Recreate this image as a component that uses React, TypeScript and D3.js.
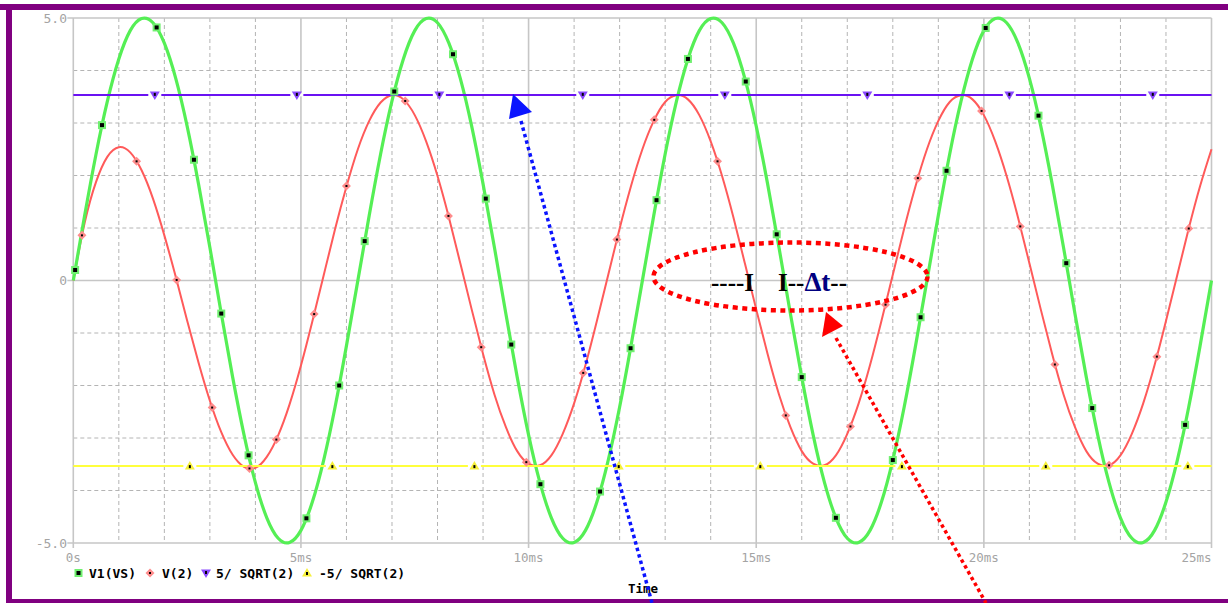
import React from "react";
import * as d3 from "d3";

// Transient simulation output: 0 .. 25 ms
const timeMs = [
  0, 0.25, 0.5, 0.75, 1, 1.25, 1.5, 1.75, 2, 2.25, 2.5, 2.75, 3, 3.25, 3.5, 3.75, 4, 4.25, 4.5, 4.75,
  5, 5.25, 5.5, 5.75, 6, 6.25, 6.5, 6.75, 7, 7.25, 7.5, 7.75, 8, 8.25, 8.5, 8.75, 9, 9.25, 9.5, 9.75,
  10, 10.25, 10.5, 10.75, 11, 11.25, 11.5, 11.75, 12, 12.25, 12.5, 12.75, 13, 13.25, 13.5, 13.75, 14, 14.25, 14.5, 14.75,
  15, 15.25, 15.5, 15.75, 16, 16.25, 16.5, 16.75, 17, 17.25, 17.5, 17.75, 18, 18.25, 18.5, 18.75, 19, 19.25, 19.5, 19.75,
  20, 20.25, 20.5, 20.75, 21, 21.25, 21.5, 21.75, 22, 22.25, 22.5, 22.75, 23, 23.25, 23.5, 23.75, 24, 24.25, 24.5, 24.75,
  25,
];

// V1(VS): source voltage
const v1Values = [
  0, 1.24, 2.41, 3.42, 4.22, 4.76, 4.99, 4.91, 4.52, 3.85, 2.94, 1.84, 0.63, -0.63, -1.84, -2.94, -3.85, -4.52, -4.91, -4.99, -4.76, -4.22, -3.42, -2.41, -1.24,
  0, 1.24, 2.41, 3.42, 4.22, 4.76, 4.99, 4.91, 4.52, 3.85, 2.94, 1.84, 0.63, -0.63, -1.84, -2.94, -3.85, -4.52, -4.91, -4.99, -4.76, -4.22, -3.42, -2.41, -1.24,
  0, 1.24, 2.41, 3.42, 4.22, 4.76, 4.99, 4.91, 4.52, 3.85, 2.94, 1.84, 0.63, -0.63, -1.84, -2.94, -3.85, -4.52, -4.91, -4.99, -4.76, -4.22, -3.42, -2.41, -1.24,
  0, 1.24, 2.41, 3.42, 4.22, 4.76, 4.99, 4.91, 4.52, 3.85, 2.94, 1.84, 0.63, -0.63, -1.84, -2.94, -3.85, -4.52, -4.91, -4.99, -4.76, -4.22, -3.42, -2.41, -1.24,
  0,
];

// V(2): node voltage (leading, with start-up transient)
const v2Values = [
  0.0, 1.1, 1.88, 2.36, 2.54, 2.44, 2.1, 1.56, 0.86, 0.07, -0.76, -1.56, -2.29, -2.89, -3.32, -3.55, -3.57, -3.36, -2.95, -2.36, -1.62, -0.78, 0.1, 0.98, 1.79,
  2.5, 3.04, 3.39, 3.53, 3.45, 3.15, 2.65, 1.99, 1.2, 0.33, -0.55, -1.4, -2.17, -2.79, -3.25, -3.49, -3.52, -3.33, -2.92, -2.34, -1.61, -0.77, 0.11, 0.99, 1.8,
  2.5, 3.04, 3.4, 3.53, 3.45, 3.15, 2.65, 1.99, 1.2, 0.33, -0.55, -1.4, -2.17, -2.79, -3.25, -3.49, -3.52, -3.33, -2.92, -2.34, -1.61, -0.77, 0.11, 0.99, 1.8,
  2.5, 3.04, 3.4, 3.53, 3.45, 3.15, 2.65, 1.99, 1.2, 0.33, -0.55, -1.4, -2.17, -2.79, -3.25, -3.49, -3.52, -3.33, -2.92, -2.34, -1.61, -0.77, 0.11, 0.99, 1.8,
  2.5,
];

// Constant traces 5/SQRT(2) and -5/SQRT(2)
const plusLevelValues = [3.5355, 3.5355];
const minusLevelValues = [-3.5355, -3.5355];
const levelTimes = [0, 25];

// Trace symbol positions
const v1MarkerTimes = [0.04, 0.63, 1.83, 2.65, 3.25, 3.85, 5.12, 5.84, 6.4, 7.05, 8.34, 9.06, 9.62, 10.26, 11.57, 12.24, 12.81, 13.5, 14.77, 15.45, 16.0, 16.75, 18.0, 18.61, 19.18, 20.04, 21.2, 21.81, 22.38, 24.42];
const v1MarkerValues = [0.2, 2.96, 4.82, 2.3, -0.63, -3.33, -4.53, -2.0, 0.75, 3.6, 4.31, 1.56, -1.22, -3.88, -4.02, -1.29, 1.53, 4.22, 3.79, 0.88, -1.84, -4.52, -3.42, -0.7, 2.09, 4.81, 3.14, 0.33, -2.43, -2.75];
const v2MarkerTimes = [0.19, 1.39, 2.27, 3.05, 3.87, 4.46, 5.29, 6.0, 7.29, 8.24, 8.96, 9.95, 11.2, 11.94, 12.76, 14.15, 15.65, 17.07, 17.84, 18.55, 19.95, 20.8, 21.56, 22.75, 23.8, 24.5];
const v2MarkerValues = [0.86, 2.27, 0.01, -2.42, -3.58, -3.03, -0.64, 1.8, 3.42, 1.23, -1.27, -3.46, -1.76, 0.78, 3.06, 2.27, -2.57, -2.78, -0.46, 1.95, 3.23, 1.03, -1.6, -3.52, -1.45, 0.99];
const plusMarkerTimes = [1.79, 4.91, 8.04, 11.19, 14.31, 17.44, 20.56, 23.71];
const minusMarkerTimes = [2.56, 5.69, 8.81, 11.98, 15.09, 18.2, 21.36, 24.48];

// Axes
const xTickValues = [0, 5, 10, 15, 20, 25];
const xTickLabels = ["0s", "5ms", "10ms", "15ms", "20ms", "25ms"];
const yTickValues = [5, 0, -5];
const yTickLabels = ["5.0", "0", "-5.0"];
const legendLabels = ["V1(VS)", "V(2)", "5/ SQRT(2)", "-5/ SQRT(2)"];
const xAxisTitle = "Time";

const W = 1228;
const H = 603;
const GREEN = "#55ef55";
const GREEN_SYM = "#70f070";
const RED = "#ff5a5a";
const RED_SYM = "#ff8c8c";
const BLUE = "#6a12f2";
const BLUE_SYM = "#8a48ff";
const YELLOW = "#ffff3c";
const YELLOW_SYM = "#f6f03a";
const GRID = "#b4b4b4";
const MAJOR = "#c6c6c6";
const LABEL = "#a4a4a4";
const MONO = "'DejaVu Sans Mono', monospace";
const SERIF = "'Liberation Serif', serif";

const x = d3.scaleLinear().domain([0, 25]).range([73.3, 1211.5]);
const y = d3.scaleLinear().domain([-5, 5]).range([543, 18]);

type Pt = [number, number];
const zip = (ts: number[], vs: number[]): Pt[] => ts.map((t, i) => [t, vs[i]]);

const smooth = d3
  .line<Pt>()
  .x((d) => x(d[0]))
  .y((d) => y(d[1]))
  .curve(d3.curveNatural);
const straight = d3
  .line<Pt>()
  .x((d) => x(d[0]))
  .y((d) => y(d[1]));

function SquareSym({ cx, cy }: { cx: number; cy: number }) {
  return (
    <g>
      <rect x={cx - 4} y={cy - 4} width={8} height={8} fill={GREEN_SYM} />
      <rect x={cx - 2} y={cy - 2} width={4} height={4} fill="#000" />
    </g>
  );
}

function DiamondSym({ cx, cy }: { cx: number; cy: number }) {
  return (
    <g>
      <polygon
        points={`${cx},${cy - 4.5} ${cx + 4.5},${cy} ${cx},${cy + 4.5} ${cx - 4.5},${cy}`}
        fill={RED_SYM}
      />
      <rect x={cx - 1} y={cy - 1} width={2} height={2} fill="#000" />
    </g>
  );
}

function TriSym({ cx, cy, down, fill }: { cx: number; cy: number; down: boolean; fill: string }) {
  const pts = down
    ? `${cx - 5},${cy - 3.5} ${cx + 5},${cy - 3.5} ${cx},${cy + 5}`
    : `${cx - 5},${cy + 3.5} ${cx + 5},${cy + 3.5} ${cx},${cy - 5}`;
  return (
    <g>
      <rect x={cx - 6.5} y={cy - 1.5} width={13} height={3} fill="#fff" />
      <polygon points={pts} fill={fill} />
      <rect x={cx - 1} y={down ? cy - 2 : cy - 1} width={2} height={3} fill="#000" />
    </g>
  );
}

export default function App() {
  const minorT = d3.range(1, 25).filter((t) => t % 5 !== 0);
  const minorV = [4, 3, 2, 1, -1, -2, -3, -4];
  const [x0, x1] = x.range();
  const yTop = y(5);
  const yBot = y(-5);

  const legendItems = [
    { sx: 78.5, tx: 89, kind: "sq" },
    { sx: 150, tx: 162, kind: "di" },
    { sx: 206, tx: 216, kind: "dn" },
    { sx: 307, tx: 319, kind: "up" },
  ];

  return (
    <svg
      width={W}
      height={H}
      viewBox={`0 0 ${W} ${H}`}
      style={{ position: "absolute", left: 0, top: 0, display: "block", background: "#fff" }}
    >
      <rect x={0} y={0} width={W} height={H} fill="#fff" />
      {/* window frame */}
      <rect x={0} y={4} width={W} height={6} fill="#800080" />
      <rect x={6} y={4} width={6} height={H - 4} fill="#800080" />
      <rect x={6} y={599} width={W - 6} height={4} fill="#800080" />

      {/* grid */}
      {minorT.map((t) => (
        <line key={`gt${t}`} x1={x(t)} x2={x(t)} y1={yTop} y2={yBot} stroke={GRID} strokeWidth={1} strokeDasharray="4 3" />
      ))}
      {minorV.map((v) => (
        <line key={`gv${v}`} x1={x0} x2={x1} y1={y(v)} y2={y(v)} stroke={GRID} strokeWidth={1} strokeDasharray="4 3" />
      ))}
      {[5, 10, 15, 20, 25].map((t) => (
        <line key={`mt${t}`} x1={x(t)} x2={x(t)} y1={yTop} y2={yBot + 5} stroke={MAJOR} strokeWidth={1.6} />
      ))}
      {[5, 0, -5].map((v) => (
        <line key={`mv${v}`} x1={x0 - 6} x2={x1} y1={y(v)} y2={y(v)} stroke={MAJOR} strokeWidth={1.6} />
      ))}
      <line x1={x0} x2={x0} y1={yTop} y2={yBot + 5} stroke={MAJOR} strokeWidth={1.6} />

      {/* tick labels */}
      {xTickValues.map((t, i) => (
        <text
          key={`xl${t}`}
          x={x(t)}
          y={562}
          textAnchor={i === xTickValues.length - 1 ? "end" : "middle"}
          fontFamily={MONO}
          fontSize={12.5}
          fill={LABEL}
        >
          {xTickLabels[i]}
        </text>
      ))}
      {yTickValues.map((v, i) => (
        <text key={`yl${v}`} x={67} y={y(v) + 4.5} textAnchor="end" fontFamily={MONO} fontSize={13} fill={LABEL}>
          {yTickLabels[i]}
        </text>
      ))}

      {/* traces */}
      <path d={smooth(zip(timeMs, v2Values)) || ""} fill="none" stroke={RED} strokeWidth={2} />
      <path d={smooth(zip(timeMs, v1Values)) || ""} fill="none" stroke={GREEN} strokeWidth={3.2} />
      <path d={straight(zip(levelTimes, plusLevelValues)) || ""} fill="none" stroke={BLUE} strokeWidth={2} />
      <path d={straight(zip(levelTimes, minusLevelValues)) || ""} fill="none" stroke={YELLOW} strokeWidth={2} />

      {/* trace symbols */}
      {v2MarkerTimes.map((t, i) => (
        <DiamondSym key={`d${i}`} cx={x(t)} cy={y(v2MarkerValues[i])} />
      ))}
      {v1MarkerTimes.map((t, i) => (
        <SquareSym key={`s${i}`} cx={x(t)} cy={y(v1MarkerValues[i])} />
      ))}
      {plusMarkerTimes.map((t, i) => (
        <TriSym key={`p${i}`} cx={x(t)} cy={y(plusLevelValues[0])} down={true} fill={BLUE_SYM} />
      ))}
      {minusMarkerTimes.map((t, i) => (
        <TriSym key={`m${i}`} cx={x(t)} cy={y(minusLevelValues[0])} down={false} fill={YELLOW_SYM} />
      ))}

      {/* legend */}
      {legendItems.map((it, i) => (
        <g key={`lg${i}`}>
          {it.kind === "sq" && <SquareSym cx={it.sx} cy={573} />}
          {it.kind === "di" && <DiamondSym cx={it.sx} cy={573} />}
          {it.kind === "dn" && <TriSym cx={it.sx} cy={573} down={true} fill={BLUE_SYM} />}
          {it.kind === "up" && <TriSym cx={it.sx} cy={573} down={false} fill={YELLOW_SYM} />}
          <text x={it.tx} y={578} fontFamily={MONO} fontWeight="bold" fontSize={13} fill="#000" style={{ whiteSpace: "pre" }}>
            {legendLabels[i]}
          </text>
        </g>
      ))}
      <text x={643} y={593} textAnchor="middle" fontFamily={MONO} fontWeight="bold" fontSize={12.5} fill="#000">
        {xAxisTitle}
      </text>

      {/* annotations */}
      <line x1={521} y1={121} x2={652} y2={603} stroke="#0a14ff" strokeWidth={3.5} strokeDasharray="3.5 3.2" />
      <polygon points="513,94 509,119 532,112" fill="#0a14ff" />
      <line x1={836} y1={338} x2={986} y2={603} stroke="#ff0000" strokeWidth={3.5} strokeDasharray="3.5 3.2" />
      <polygon points="826,312 822,337 843,326" fill="#ff0000" />
      <ellipse cx={790.5} cy={276.5} rx={137} ry={34} fill="none" stroke="#ff0000" strokeWidth={4.5} strokeDasharray="5 4.5" />
      <text x={711} y={291} fontFamily={SERIF} fontWeight="bold" fontSize={25} fill="#000">
        ----I
      </text>
      <text x={778} y={291} fontFamily={SERIF} fontWeight="bold" fontSize={25} fill="#000">
        I--
        <tspan fill="#000080" fontSize={27}>Δt</tspan>
        <tspan>--</tspan>
      </text>
    </svg>
  );
}
